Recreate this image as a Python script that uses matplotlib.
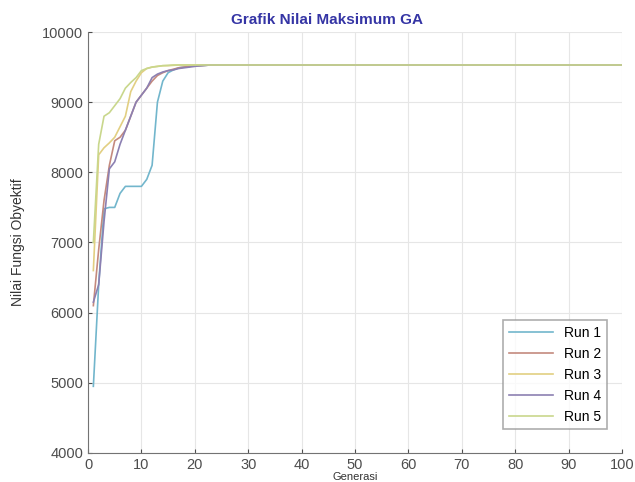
import matplotlib
matplotlib.use("Agg")
import matplotlib.pyplot as plt
import numpy as np

plt.rcParams["font.family"] = ["Liberation Sans", "DejaVu Sans"]

# best objective value per generation (gens 1..30,
# every run sits on the same plateau afterwards)
PLATEAU = 9530
run1 = [4950, 6400, 7480, 7500, 7500, 7700, 7800, 7800, 7800, 7800,
        7900, 8100, 9000, 9300, 9420, 9460, 9490, 9500, 9510, 9520,
        9520, 9525, 9530, 9530, 9530, 9530, 9530, 9530, 9530, 9530]
run2 = [6100, 6900, 7600, 8100, 8450, 8500, 8600, 8800, 9000, 9100,
        9200, 9300, 9380, 9420, 9450, 9470, 9490, 9500, 9510, 9520,
        9520, 9525, 9530, 9530, 9530, 9530, 9530, 9530, 9530, 9530]
run3 = [6600, 8250, 8350, 8420, 8500, 8650, 8800, 9150, 9300, 9420,
        9480, 9500, 9510, 9520, 9520, 9525, 9530, 9530, 9530, 9530,
        9530, 9530, 9530, 9530, 9530, 9530, 9530, 9530, 9530, 9530]
run4 = [6150, 6400, 7300, 8050, 8150, 8400, 8600, 8800, 9000, 9100,
        9200, 9350, 9400, 9430, 9450, 9460, 9480, 9490, 9500, 9510,
        9520, 9525, 9530, 9530, 9530, 9530, 9530, 9530, 9530, 9530]
run5 = [7000, 8400, 8800, 8850, 8950, 9050, 9200, 9280, 9350, 9450,
        9480, 9500, 9510, 9520, 9525, 9530, 9530, 9530, 9530, 9530,
        9530, 9530, 9530, 9530, 9530, 9530, 9530, 9530, 9530, 9530]
labels = ["Run 1", "Run 2", "Run 3", "Run 4", "Run 5"]
colors = ["#72b6cc", "#c48a7e", "#e2cf82", "#8c80b2", "#c9d78c"]

gens = np.arange(1, 101)

fig = plt.figure(figsize=(6.35, 4.82), dpi=100)
ax = fig.add_axes([0.1386, 0.0602, 0.841, 0.8734])

for run, lab, col in zip([run1, run2, run3, run4, run5], labels, colors):
    y = run + [PLATEAU] * (len(gens) - len(run))
    ax.plot(gens, y, color=col, lw=1.2, label=lab)

ax.set_xlim(0, 100)
ax.set_ylim(4000, 10000)
ax.set_xticks(np.arange(0, 101, 10))
ax.set_yticks(np.arange(4000, 10001, 1000))
ax.grid(color="0.9", lw=0.8)
ax.set_axisbelow(True)
ax.tick_params(direction="in", labelsize=10.5, colors="0.3", length=3)
for sp in ("top", "right"):
    ax.spines[sp].set_visible(False)
for sp in ("left", "bottom"):
    ax.spines[sp].set_color("0.45")

ax.set_title("Grafik Nilai Maksimum GA", fontsize=11, fontweight="bold",
             color="#3535a5", x=0.447, pad=6)
ax.set_ylabel("Nilai Fungsi Obyektif", fontsize=10, color="0.2", labelpad=12)
ax.set_xlabel("Generasi", fontsize=8, color="0.2", labelpad=0)

leg = ax.legend(loc="lower right", fontsize=10, handlelength=3.2,
                bbox_to_anchor=(0.985, 0.04), fancybox=False,
                labelspacing=0.5)
leg.get_frame().set_edgecolor("0.6")
leg.get_frame().set_linewidth(1.2)

fig.savefig("out.png", dpi=100)
